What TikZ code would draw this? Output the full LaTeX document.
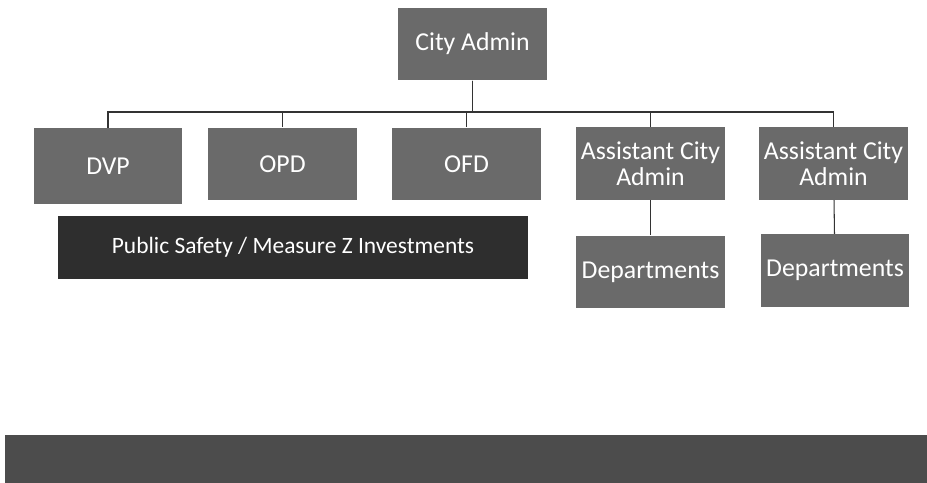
\documentclass[tikz,border=0pt]{standalone}
\usepackage{fontspec}
\setmainfont{Carlito}
\usepackage{tikz}
\usetikzlibrary{positioning}

\definecolor{boxgray}{HTML}{6A6A6A}
\definecolor{darkgray}{HTML}{2E2E2E}
\definecolor{bandgray}{HTML}{4C4C4C}

\begin{document}
\begin{tikzpicture}[x=0.03cm,y=-0.03cm,
 thick,
 unit node/.style={rectangle,fill=boxgray,text=white,inner sep=1pt,
   minimum width=4.45cm,minimum height=2.17cm,align=center,
   font=\fontsize{22}{22}\selectfont},
 bar node/.style={rectangle,fill=darkgray,text=white,
   minimum width=14.1cm,minimum height=1.9cm,
   font=\fontsize{20}{21}\selectfont},
 link/.style={draw=gray!40!black,line width=0.9pt}]

  \useasboundingbox (0,0) rectangle (927,483);

  \node[unit node] (ca) at (472.5,44) {City Admin};
  \node[unit node,minimum height=2.28cm] (dvp) at (108,166) {DVP};
  \node[unit node] (opd) at (282.5,164) {OPD};
  \node[unit node] (ofd) at (466.5,164) {OFD};
  \node[unit node] (asst1) at (650.5,163.5) {Assistant City\\Admin};
  \node[unit node] (asst2) at (833.5,163.5) {Assistant City\\Admin};
  \node[unit node] (dept1) at (650.5,272) {Departments};
  \node[unit node] (dept2) at (835,270.5) {Departments};
  \node[bar node] (safety) at (293,247.5) {Public Safety / Measure Z Investments};
  \node[rectangle,fill=bandgray,minimum width=27.66cm,minimum height=1.44cm]
    (band) at (466,459) {};

  \coordinate (bus) at (472.5,112);

  \foreach \t in {dvp, opd, ofd, asst1, asst2} {
   \path[link] (ca.south) -- (bus) -| (\t.north);}

  \foreach \s/\t in {asst1/dept1, asst2/dept2} {
   \path[link] (\s) edge (\t);}

\end{tikzpicture}
\end{document}
